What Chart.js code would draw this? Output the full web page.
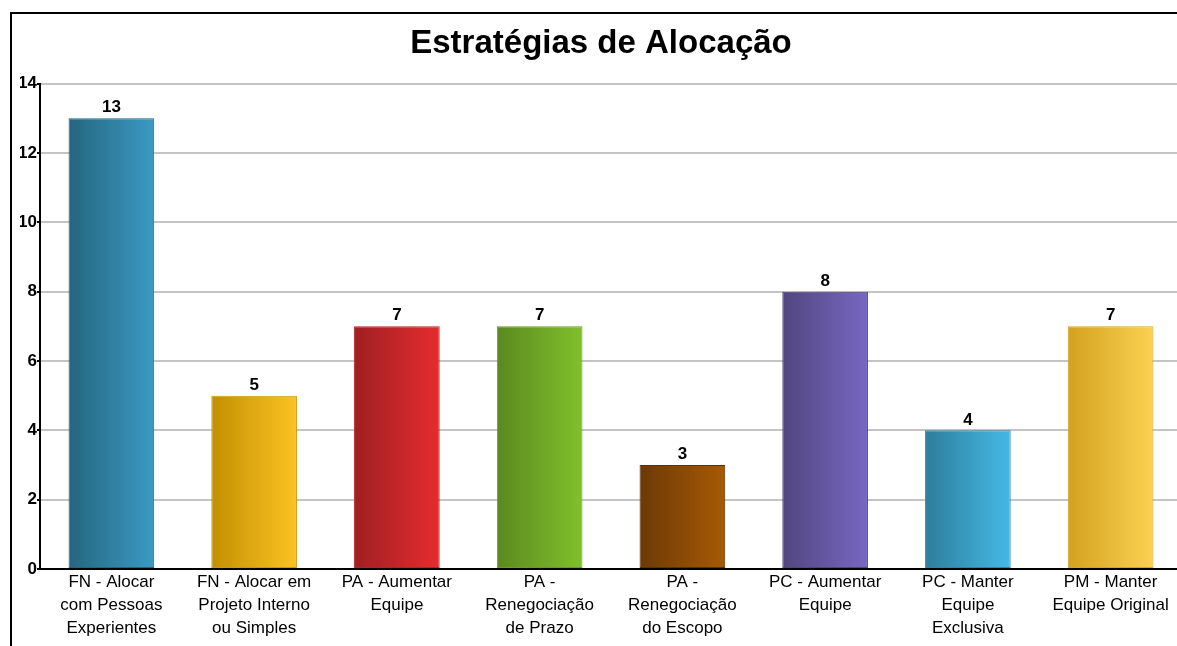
<!DOCTYPE html>
<html>
<head>
<meta charset="utf-8">
<script src="https://cdn.jsdelivr.net/npm/chart.js@4.4.1/dist/chart.umd.min.js"></script>
<style>
  html, body { margin: 0; padding: 0; background: #fff; overflow: hidden; }
  #wrap { position: relative; width: 1177px; height: 646px; overflow: hidden; }
  #frame { position: absolute; left: 10px; top: 12px; width: 1200px; height: 700px;
           border-left: 2px solid #000; border-top: 2px solid #000; }
  #box { position: absolute; left: 0; top: 0; width: 1184px; height: 646px; }
</style>
</head>
<body>
<div id="wrap">
  <div id="frame"></div>
  <div id="box"><canvas id="chart"></canvas></div>
</div>
<script>
// Categories and values
const categories = [
  ['FN - Alocar', 'com Pessoas', 'Experientes'],
  ['FN - Alocar em', 'Projeto Interno', 'ou Simples'],
  ['PA - Aumentar', 'Equipe'],
  ['PA -', 'Renegociação', 'de Prazo'],
  ['PA -', 'Renegociação', 'do Escopo'],
  ['PC - Aumentar', 'Equipe'],
  ['PC - Manter', 'Equipe', 'Exclusiva'],
  ['PM - Manter', 'Equipe Original']
];
const values = [13, 5, 7, 7, 3, 8, 4, 7];
const yTicks = [0, 2, 4, 6, 8, 10, 12, 14];

// left (dark) / right (light) of each bar's gradient, and border
const darkColors  = ['#24667e', '#c28f02', '#a01f22', '#5a891e', '#6c3a06', '#51467f', '#2d7e9b', '#d3a11f'];
const lightColors = ['#3b9ac3', '#fbc322', '#e62c2f', '#80c02c', '#a65a04', '#7767c2', '#45b9e6', '#fbd152'];
const borderColors = ['#1f6580', '#c99a10', '#b52226', '#6b9b25', '#5a3005', '#4f437a', '#2b86a6', '#d4a520'];

const ctx = document.getElementById('chart').getContext('2d');

// horizontal gradient per bar
const gradientFill = {
  id: 'gradientFill',
  beforeDatasetsDraw(chart) {
    const meta = chart.getDatasetMeta(0);
    meta.data.forEach((bar, i) => {
      const g = chart.ctx.createLinearGradient(bar.x - bar.width / 2, 0, bar.x + bar.width / 2, 0);
      g.addColorStop(0, darkColors[i]);
      g.addColorStop(1, lightColors[i]);
      bar.options.backgroundColor = g;
    });
  }
};

// value labels above bars
const valueLabels = {
  id: 'valueLabels',
  afterDatasetsDraw(chart) {
    const c = chart.ctx;
    const meta = chart.getDatasetMeta(0);
    c.save();
    c.font = 'bold 17px "Liberation Sans", Arial, sans-serif';
    c.fillStyle = '#000';
    c.textAlign = 'center';
    c.textBaseline = 'bottom';
    meta.data.forEach((bar, i) => {
      c.fillText(values[i], bar.x, bar.y - 2);
    });
    c.restore();
  }
};

new Chart(ctx, {
  type: 'bar',
  data: {
    labels: categories,
    datasets: [{
      data: values,
      backgroundColor: lightColors,
      borderColor: borderColors,
      borderWidth: 1,
      borderSkipped: false,
      barPercentage: 0.6,
      categoryPercentage: 1
    }]
  },
  plugins: [gradientFill, valueLabels],
  options: {
    responsive: true,
    maintainAspectRatio: false,
    animation: false,
    layout: { padding: { left: 20, right: 2, top: 0, bottom: 0 } },
    plugins: {
      legend: { display: false },
      tooltip: { enabled: false },
      title: {
        display: true,
        text: 'Estratégias de Alocação',
        color: '#000',
        font: { family: '"Liberation Sans", Arial, sans-serif', size: 33, weight: 'bold', lineHeight: 1.2 },
        padding: { top: 24, bottom: 20 }
      }
    },
    scales: {
      x: {
        grid: { display: false },
        border: { color: '#000', width: 2 },
        ticks: {
          color: '#000',
          padding: -6,
          maxRotation: 0,
          autoSkip: false,
          font: { family: '"Liberation Sans", Arial, sans-serif', size: 17, lineHeight: 1.35 }
        },
        afterFit(scale) { scale.height = 77; }
      },
      y: {
        min: 0,
        max: 14,
        afterBuildTicks(scale) { scale.ticks = yTicks.map(v => ({ value: v })); },
        grid: { color: '#c4c4c4', lineWidth: 2, tickColor: '#000', tickLength: 3, drawTicks: true },
        border: { color: '#000', width: 2 },
        ticks: {
          color: '#000',
          padding: 0,
          font: { family: '"Liberation Sans", Arial, sans-serif', size: 17, weight: 'bold' }
        },
        afterFit(scale) { scale.width = 20; }
      }
    }
  }
});
</script>
</body>
</html>
